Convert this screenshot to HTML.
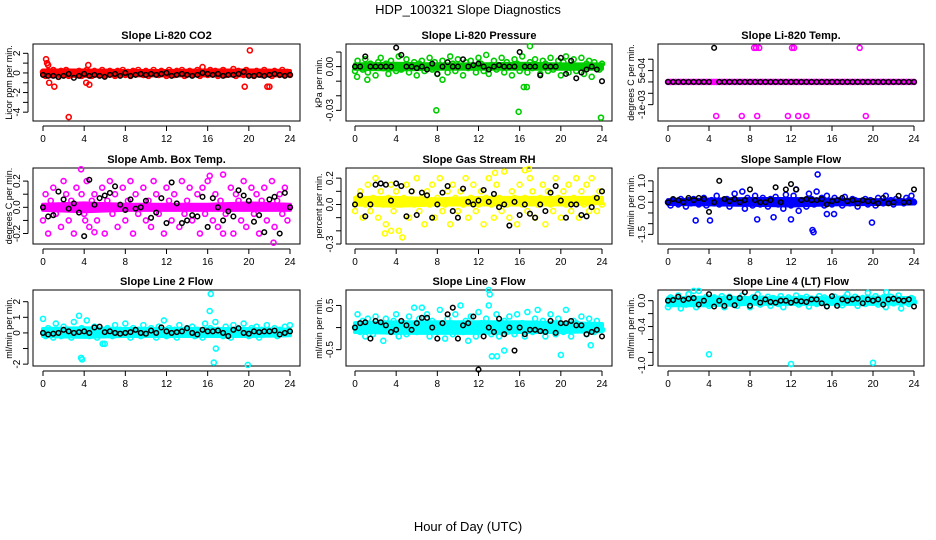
<!DOCTYPE html>
<html><head><meta charset="utf-8"><style>
html,body{margin:0;padding:0;background:#fff;}
svg{display:block;font-family:"Liberation Sans",Arial,sans-serif;}
</style></head><body>
<svg id="chart" width="936" height="540" viewBox="0 0 936 540">
<text x="468" y="14" text-anchor="middle" font-size="13">HDP_100321  Slope Diagnostics</text>
<text x="468" y="531" text-anchor="middle" font-size="13">Hour of Day (UTC)</text>
</svg>
<script>
const xTicks=[0,4,8,12,16,20,24];
const titles=["Slope Li-820 CO2","Slope Li-820 Pressure","Slope Li-820 Temp.","Slope Amb. Box Temp.","Slope Gas Stream RH","Slope Sample Flow","Slope Line 2 Flow","Slope Line 3 Flow","Slope Line 4 (LT) Flow"];
const yTitles=["Licor ppm per min.","kPa per min.","degrees C per min.","degrees C per min.","percent per min.","ml/min per min.","ml/min per min.","ml/min per min.","ml/min per min."];
const colors=["#ff0000","#00cc00","#ff00ff","#ff00ff","#ffff00","#0000ff","#00ffff","#00ffff","#00ffff"];
const yTickVals=[[-4,-3,-2,-1,0,1,2],[-0.03,-0.02,-0.01,0,0.01],[-0.001,-0.0005,0,0.0005,0.001],[-0.2,-0.1,0,0.1,0.2],[-0.3,-0.2,-0.1,0,0.1,0.2],[-1.5,-1,-0.5,0,0.5,1],[-2,-1,0,1,2],[-0.5,0,0.5],[-1,-0.8,-0.6,-0.4,-0.2,0]];
const yTickLabels=[{"-4":"-4","-2":"-2","0":"0","2":"2"},{"-0.03":"-0.03","0":"0.00"},{"-0.001":"-1e-03","0.0005":"5e-04"},{"-0.2":"-0.2","0":"0.0","0.2":"0.2"},{"-0.3":"-0.3","0":"0.0","0.2":"0.2"},{"-1.5":"-1.5","0":"0.0","1":"1.0"},{"-2":"-2","0":"0","1":"1","2":"2"},{"-0.5":"-0.5","0.5":"0.5"},{"-1":"-1.0","-0.4":"-0.4","0":"0.0"}];
const yDomains=[[2.95,-4.9],[0.0155,-0.0373],[0.00167,-0.00172],[0.30,-0.28],[0.277,-0.300],[1.60,-1.95],[2.75,-2.12],[0.85,-0.87],[0.165,-1.01]];

const bandHours=[0,4,8,12,16,20,24];
const bandLo=[[-0.3,-0.3,-0.25,-0.25,-0.25,-0.25,-0.25],[-0.0015,-0.002,-0.0015,-0.0015,-0.0015,-0.0015,-0.0015],[0,0,0,0,0,0,0],[-0.02,-0.03,-0.02,-0.02,-0.02,-0.02,-0.02],[0.0,-0.01,0.0,0.0,0.0,0.0,0.01],[-0.08,-0.1,-0.12,-0.15,-0.1,-0.08,-0.06],[-0.2,-0.25,-0.2,-0.2,-0.2,-0.2,-0.15],[-0.1,-0.12,-0.12,-0.12,-0.1,-0.1,-0.08],[-0.07,-0.07,-0.05,-0.05,-0.05,-0.05,-0.04]];
const bandHi=[[0.25,0.25,0.2,0.2,0.25,0.25,0.2],[0.0015,0.002,0.0015,0.0015,0.002,0.0015,0.0015],[0,0,0,0,0,0,0],[0.02,0.03,0.02,0.02,0.02,0.03,0.02],[0.05,0.05,0.04,0.05,0.05,0.05,0.05],[0.1,0.12,0.15,0.15,0.12,0.1,0.08],[0.25,0.3,0.25,0.25,0.25,0.25,0.2],[0.1,0.12,0.12,0.12,0.12,0.1,0.08],[0.04,0.05,0.04,0.04,0.04,0.05,0.04]];

const col1=[0.1,-0.3,0.2,-0.2,0.3,0.0,-0.4,0.2,-0.1,0.3,-0.3,0.1,0.0,-0.2,0.2,-0.3,0.1,0.3,-0.1,-0.3,0.2,0.0,-0.2,0.3,-0.3,0.1,0.2,-0.1,-0.3,0.2,0.0,0.3,-0.2,0.1,-0.3,0.2,-0.1,0.3,0.0,-0.2,0.2,-0.3,0.1,0.3,-0.1,-0.2,0.2,0.0,-0.3,0.3,0.1,-0.2,0.2,-0.1,0.3,-0.3,0.0,0.2,-0.2,0.1,0.3,-0.3,0.1,0.0,-0.2,0.3,-0.1,0.2,-0.3,0.0,0.3,-0.2,0.1,-0.1,0.4,-0.3,0.2,0.0,-0.2,0.3,-0.1,0.1,-0.3,0.2,0.0,-0.2,0.3,-0.1,0.1,-0.3,0.2,0.0,-0.2,0.3,-0.1,0.1,-0.2];
const col2=[-0.003,0.004,0.0,-0.002,0.005,-0.004,0.002,0.0,-0.006,0.003,0.006,-0.001,0.002,-0.005,0.004,0.0,-0.003,0.007,-0.002,0.001,0.005,-0.004,0.0,0.003,-0.006,0.002,0.004,-0.003,0.0,0.006,-0.002,0.003,-0.005,0.001,0.004,0.0,-0.004,0.007,0.002,-0.003,0.005,0.0,-0.006,0.003,-0.001,0.004,0.0,-0.004,0.006,0.002,-0.003,0.008,-0.005,0.001,0.004,-0.002,0.0,0.006,-0.004,0.003,0.0,-0.006,0.005,0.002,-0.003,0.007,0.0,-0.004,0.003,-0.001,0.005,0.0,-0.005,0.004,0.002,-0.003,0.006,-0.002,0.0,0.004,-0.006,0.003,0.007,-0.004,0.001,0.005,-0.003,0.0,0.006,-0.005,0.002,0.004,-0.007,0.003,0.0,-0.002,0.002];
const col3=[0,0,0,0,0,0,0,0,0,0,0,0,0,0,0,0,0,0,0,0,0,0,0,0,0,0,0,0,0,0,0,0,0,0,0,0,0,0,0,0,0,0,0,0,0,0,0,0,0,0,0,0,0,0,0,0,0,0,0,0,0,0,0,0,0,0,0,0,0,0,0,0,0,0,0,0,0,0,0,0,0,0,0,0,0,0,0,0,0,0,0,0,0,0,0,0,0];
const col4=[-0.1,0.1,-0.2,0.05,0.15,-0.05,0.0,-0.15,0.2,0.1,-0.1,0.05,-0.2,0.15,0.0,0.1,-0.05,0.2,-0.15,0.05,0.1,-0.1,0.0,0.15,-0.2,0.05,0.2,-0.05,0.1,-0.15,0.0,0.15,-0.1,0.05,0.2,-0.2,0.1,-0.05,0.0,0.15,-0.1,0.05,-0.15,0.2,0.1,-0.05,0.0,-0.2,0.15,0.05,-0.1,0.1,0.0,-0.15,0.2,-0.05,0.05,0.15,-0.1,0.0,0.1,-0.2,0.15,-0.05,0.2,0.0,-0.1,0.1,-0.15,0.05,0.25,-0.05,0.0,0.15,-0.2,0.1,0.05,-0.1,0.2,-0.15,0.0,0.15,-0.05,0.1,-0.2,0.05,0.15,-0.1,0.0,0.2,-0.15,0.05,0.1,-0.05,0.15,-0.1,0.0];
const col5=[-0.05,0.05,0.1,-0.1,0.0,0.15,-0.05,0.05,0.2,-0.1,0.1,0.0,-0.15,0.05,0.15,-0.05,0.1,-0.2,0.0,0.05,0.15,-0.1,0.1,0.0,0.2,-0.05,0.05,-0.15,0.1,0.0,0.15,-0.1,0.05,0.2,-0.05,0.0,0.1,-0.15,0.15,0.05,-0.05,0.1,0.0,0.2,-0.1,0.05,0.15,-0.05,0.0,0.1,-0.15,0.05,0.2,0.0,-0.1,0.15,0.05,-0.05,0.25,0.0,-0.1,0.1,0.05,-0.15,0.15,0.0,0.05,-0.05,0.2,0.1,-0.1,0.0,0.05,0.15,-0.15,0.1,0.0,-0.05,0.2,0.05,-0.1,0.1,0.0,0.15,-0.05,0.05,0.2,-0.1,0.1,0.0,0.15,-0.05,0.2,0.05,-0.05,0.1,0.0];
const col6=[0.0,-0.15,0.1,0.05,-0.1,0.15,0.0,-0.2,0.1,-0.05,0.15,0.0,-0.1,0.05,0.2,-0.15,0.0,0.1,-0.05,0.3,-0.1,0.05,0.0,0.15,-0.2,0.1,0.4,-0.05,0.0,0.5,-0.3,0.2,0.1,-0.15,0.3,0.0,-0.1,0.2,0.05,-0.2,0.15,0.0,0.25,-0.1,0.1,-0.3,0.35,0.0,-0.15,0.3,0.6,-0.4,0.1,0.0,-0.2,0.4,0.15,-0.1,0.5,0.0,0.2,-0.15,0.3,0.05,-0.1,0.2,0.0,0.1,-0.15,0.25,0.0,-0.05,0.15,0.1,-0.2,0.05,0.0,0.15,-0.1,0.1,0.0,-0.15,0.2,0.05,-0.05,0.3,0.0,0.1,-0.1,0.15,0.0,0.05,-0.05,0.2,0.1,0.3,0.0];
const col7=[0.9,-0.2,0.3,0.0,-0.3,0.6,0.1,-0.2,0.4,0.0,0.2,-0.3,0.7,0.1,-0.1,0.3,0.0,0.8,-0.2,0.1,0.4,-0.3,0.2,0.0,-0.7,0.3,0.1,-0.2,0.5,0.0,0.2,-0.1,0.6,0.1,-0.3,0.3,0.0,0.2,-0.2,0.5,0.1,-0.1,0.3,0.0,-0.3,0.4,0.1,0.8,-0.2,0.3,0.0,0.2,-0.3,0.5,0.1,-0.1,0.3,0.0,0.4,-0.2,0.2,0.1,-0.3,0.6,0.0,0.3,-0.1,0.7,0.2,0.0,-0.2,0.4,0.1,-0.3,0.5,0.0,0.2,-0.1,0.6,0.1,-0.2,0.3,0.0,0.4,-0.3,0.2,0.1,0.5,-0.1,0.0,0.3,-0.2,0.2,0.1,0.4,0.0,0.5];
const col8=[0.0,0.3,-0.1,0.15,-0.2,0.2,0.05,-0.15,0.25,-0.05,0.1,-0.3,0.2,0.0,-0.1,0.15,0.3,-0.2,0.05,0.1,-0.15,0.25,0.0,0.45,-0.1,0.2,0.1,-0.05,0.3,-0.2,0.15,0.0,-0.1,0.4,0.05,-0.25,0.2,0.1,-0.15,0.3,0.0,0.5,-0.1,0.15,-0.3,0.25,0.05,-0.2,0.35,0.1,-0.05,0.2,0.5,-0.15,0.0,0.3,-0.2,0.1,0.15,-0.1,0.25,0.05,-0.15,0.3,0.0,0.1,-0.2,0.35,0.05,-0.1,0.2,0.4,-0.05,0.15,-0.2,0.0,0.3,0.1,-0.15,0.2,0.05,-0.1,0.4,0.0,-0.2,0.15,0.1,-0.05,0.25,0.0,-0.15,0.2,0.05,-0.1,0.15,0.0,-0.05];
const col9=[-0.1,0.05,-0.05,0.0,0.08,-0.12,0.02,-0.06,0.1,-0.02,0.04,-0.1,0.15,0.0,-0.05,0.06,-0.08,0.02,0.05,-0.04,0.0,0.07,-0.1,0.03,0.06,-0.05,0.0,-0.08,0.04,0.08,-0.03,0.02,-0.1,0.05,0.0,0.1,-0.06,0.03,-0.02,0.06,-0.08,0.04,0.0,-0.05,0.07,-0.1,0.02,0.05,-0.03,0.0,0.08,-0.06,0.04,-0.02,0.06,-0.09,0.03,0.0,-0.05,0.07,-0.02,0.05,-0.08,0.02,0.0,0.06,-0.04,0.03,-0.07,0.05,0.1,-0.03,0.0,0.06,-0.08,0.02,0.04,-0.05,0.12,0.0,-0.03,0.07,-0.06,0.02,0.05,-0.1,0.0,0.06,-0.04,0.03,0.08,-0.12,0.02,0.0,-0.05,0.04,-0.02];
const colored=[col1,col2,col3,col4,col5,col6,col7,col8,col9];

const outHours=[[0.3,0.4,0.5,0.6,1.1,2.5,4.2,4.4,4.5,15.5,19.6,20.1,21.8,22.0],[0.2,1.2,7.9,8.5,15.9,16.4,16.7,17.0,23.9],[4.7,7.2,8.4,8.6,8.7,8.9,11.7,12.1,12.3,12.7,13.5,18.7,19.3],[3.7,22.4,16.2,17.5,4.1,5.0],[16.5,16.9,2.9,3.5,4.6,13.6],[14.6,14.1,14.2,19.9,2.7,4.1,8.7,10.3,12.0,15.5,16.2],[16.3,16.2,3.5,3.7,3.8,16.8,16.6,19.9,5.8],[13.0,13.1,13.3,13.8,14.5,20.0,22.9,6.5],[4.0,12.0,20.0,2.5,21.3]];
const outVals=[[1.4,1.0,0.8,-1.0,-1.4,-4.5,-1.0,0.8,-1.2,0.6,-1.4,2.3,-1.4,-1.4],[-0.007,-0.009,-0.030,-0.009,-0.031,-0.014,-0.014,0.014,-0.035],[-0.0015,-0.0015,0.0015,0.0015,-0.0015,0.0015,-0.0015,0.0015,0.0015,-0.0015,-0.0015,0.0015,-0.0015],[0.29,-0.27,0.24,-0.2,-0.1,-0.19],[0.26,0.27,-0.22,-0.2,-0.25,0.24],[1.3,-1.3,-1.4,-0.95,-0.85,-0.85,-0.8,-0.7,-0.8,-0.55,-0.55],[2.5,1.4,1.1,-1.6,-1.7,-1.0,-1.9,-2.05,-0.7],[0.85,0.75,-0.65,-0.65,-0.52,-0.62,-0.4,0.45],[-0.83,-0.98,-0.96,0.15,0.13]];

const blk1=[-0.2,-0.3,-0.3,-0.4,-0.3,-0.1,-0.5,-0.3,-0.1,-0.3,-0.2,-0.3,-0.4,-0.2,-0.1,-0.3,0.0,-0.3,-0.2,-0.1,-0.2,-0.1,-0.2,-0.1,0.0,-0.3,-0.2,-0.1,-0.2,-0.3,-0.2,0.0,-0.1,-0.2,-0.1,-0.3,-0.2,-0.2,-0.1,0.1,-0.3,-0.3,-0.2,-0.3,-0.2,-0.1,-0.2,-0.3,-0.2];
const blk2=[0.0,0.0,0.007,0.0,0.0,0.0,0.0,0.0,0.013,0.008,0.0,0.0,-0.001,0.0,-0.002,0.002,-0.005,0.0,0.003,0.0,0.0,0.005,0.0,0.001,0.002,0.0,-0.002,0.0,0.001,0.0,0.0,0.0,0.010,0.0,0.0,0.0,-0.006,0.0,0.0,0.0,0.006,-0.005,0.004,-0.008,-0.004,-0.002,0.0,-0.002,-0.010];
const blk3=[0,0,0,0,0,0,0,0,0,0.0015,0,0,0,0,0,0,0,0,0,0,0,0,0,0,0,0,0,0,0,0,0,0,0,0,0,0,0,0,0,0,0,0,0,0,0,0,0,0,0];
const blk4=[0.0,-0.07,-0.06,0.12,0.06,-0.01,0.03,-0.04,-0.22,0.21,0.02,0.07,0.09,0.11,0.16,0.02,-0.02,0.06,-0.01,0.0,0.05,-0.08,-0.04,0.07,-0.12,0.19,0.03,-0.12,-0.1,-0.06,-0.07,0.08,-0.15,0.07,0.0,-0.1,-0.03,-0.07,0.13,0.09,0.05,-0.11,-0.06,-0.19,0.06,0.08,-0.2,0.11,0.0];
const blk5=[0.0,0.07,-0.09,0.0,0.15,0.16,0.15,0.03,0.16,0.14,-0.09,0.1,-0.08,0.09,0.07,-0.1,0.0,0.09,0.14,-0.05,-0.1,0.12,0.02,0.0,0.03,0.11,0.02,0.08,-0.02,0.0,-0.16,0.02,-0.08,0.0,-0.07,-0.1,0.0,-0.05,0.09,0.14,0.03,-0.1,0.0,0.0,-0.08,-0.09,-0.02,0.05,0.1];
const blk6=[0.0,0.15,0.1,0.0,0.2,0.1,0.2,0.15,-0.45,0.0,1.0,0.15,0.05,0.15,0.0,0.1,0.6,0.1,0.0,0.0,0.1,0.7,0.0,0.6,0.85,0.6,0.1,0.15,0.1,0.1,0.15,-0.1,0.05,0.1,0.2,0.05,0.1,-0.05,0.1,0.05,0.05,-0.05,0.2,-0.05,0.0,0.3,0.0,0.0,0.6];
const blk7=[0.0,-0.1,-0.05,0.0,0.2,0.1,0.0,0.05,0.1,0.0,0.35,0.4,0.05,0.1,0.0,-0.05,0.0,0.05,0.2,0.0,-0.05,0.15,0.0,0.35,0.1,0.0,0.05,0.1,0.3,0.0,-0.1,0.2,0.1,0.1,0.15,0.0,-0.2,0.2,0.3,0.0,-0.05,0.1,0.05,0.1,0.1,0.15,-0.1,0.0,0.1];
const blk8=[0.0,0.1,0.12,-0.25,0.15,0.12,0.05,-0.1,-0.05,0.15,0.05,-0.05,0.1,0.22,0.22,0.0,-0.25,0.1,0.3,0.45,-0.25,0.05,0.1,0.25,-0.95,-0.2,0.0,-0.1,0.2,-0.15,0.0,-0.52,0.0,-0.15,-0.05,-0.05,-0.08,-0.1,0.15,-0.12,0.1,0.1,0.15,0.05,0.05,-0.15,-0.1,-0.05,-0.2];
const blk9=[0.0,0.01,0.06,0.01,0.03,0.04,-0.06,0.0,0.1,-0.09,0.0,-0.08,0.05,-0.07,0.04,0.13,-0.08,0.05,-0.03,0.02,-0.02,-0.03,0.0,0.0,-0.03,0.0,-0.01,-0.02,0.02,0.02,-0.04,-0.09,0.07,-0.08,0.02,0.0,0.02,0.03,-0.04,0.02,0.0,0.02,-0.06,0.02,0.03,0.01,0.0,0.02,-0.09];
const black=[blk1,blk2,blk3,blk4,blk5,blk6,blk7,blk8,blk9];

const NS="http://www.w3.org/2000/svg";
const svg=document.getElementById('chart');
function mk(tag,attrs,parent){const e=document.createElementNS(NS,tag);for(const k in attrs)e.setAttribute(k,attrs[k]);(parent||svg).appendChild(e);return e;}
const colBox=[[33,300,43,290],[346,612,355,602],[658,924,668,914]];
const rowBox=[[44,121],[168,244],[290,366]];
const ylabX=[12,322,634];

for(let p=0;p<9;p++){
  const c=p%3,r=Math.floor(p/3);
  const [L,R,x0,x24]=colBox[c];const [T,B]=rowBox[r];
  const xs=h=>x0+(x24-x0)*h/24;
  const [ytop,ybot]=yDomains[p];
  const ys=v=>T+(ytop-v)/(ytop-ybot)*(B-T);
  const g=mk('g',{});
  
  
  const t=mk('text',{x:(L+R)/2,y:T-5,'text-anchor':'middle','font-size':'11','font-weight':'bold'},g);t.textContent=titles[p];
  
  
  const yl=mk('text',{x:ylabX[c],y:(T+B)/2,'text-anchor':'middle','font-size':'9',transform:`rotate(-90 ${ylabX[c]} ${(T+B)/2})`},g);yl.textContent=yTitles[p];
  
  
  const xa=mk('g',{},g);
  
  
  mk('line',{x1:xs(0),x2:xs(24),y1:B+5,y2:B+5,stroke:'#000','stroke-width':1},xa);
  xTicks.forEach(h=>{mk('line',{x1:xs(h),x2:xs(h),y1:B+5,y2:B+10,stroke:'#000'},xa);
    const tl=mk('text',{x:xs(h),y:B+21,'text-anchor':'middle','font-size':'10'},xa);tl.textContent=h;
    
    });
  const ya=mk('g',{},g);
  
  
  const tv=yTickVals[p];
  mk('line',{x1:L-5,x2:L-5,y1:ys(tv[0]),y2:ys(tv[tv.length-1]),stroke:'#000'},ya);
  tv.forEach(v=>{mk('line',{x1:L-10,x2:L-5,y1:ys(v),y2:ys(v),stroke:'#000'},ya);
    const lab=yTickLabels[p][String(v)];
    if(lab!==undefined){const tl=mk('text',{x:L-13,y:ys(v),'text-anchor':'middle','font-size':'10',transform:`rotate(-90 ${L-13} ${ys(v)})`},ya);tl.textContent=lab;
      
      }});
  const bx=mk('rect',{x:L,y:T,width:R-L,height:B-T,fill:'none',stroke:'#000'},g);
  
  
  let pts=bandHours.map((h,i)=>xs(h)+','+ys(bandHi[p][i]));
  pts=pts.concat(bandHours.map((h,i)=>xs(h)+','+ys(bandLo[p][i])).reverse());
  const band=mk('polygon',{points:pts.join(' '),fill:colors[p],stroke:colors[p],'stroke-width':4,'stroke-linejoin':'round'},g);
  
  
  const cs=colored[p];
  cs.forEach((v,i)=>{const h=24*i/(cs.length-1);
    const pt=mk('circle',{cx:xs(h),cy:ys(v),r:2.5,fill:'none',stroke:colors[p],'stroke-width':1.6},g);
    
    });
  outHours[p].forEach((h,i)=>{
    const pt=mk('circle',{cx:xs(h),cy:ys(outVals[p][i]),r:2.5,fill:'none',stroke:colors[p],'stroke-width':1.6},g);
    
    });
  const bs=black[p];
  bs.forEach((v,i)=>{const h=24*i/(bs.length-1);
    const pt=mk('circle',{cx:xs(h),cy:ys(v),r:2.3,fill:'none',stroke:'#000','stroke-width':1.5},g);
    
    });
}
</script>
</body></html>
